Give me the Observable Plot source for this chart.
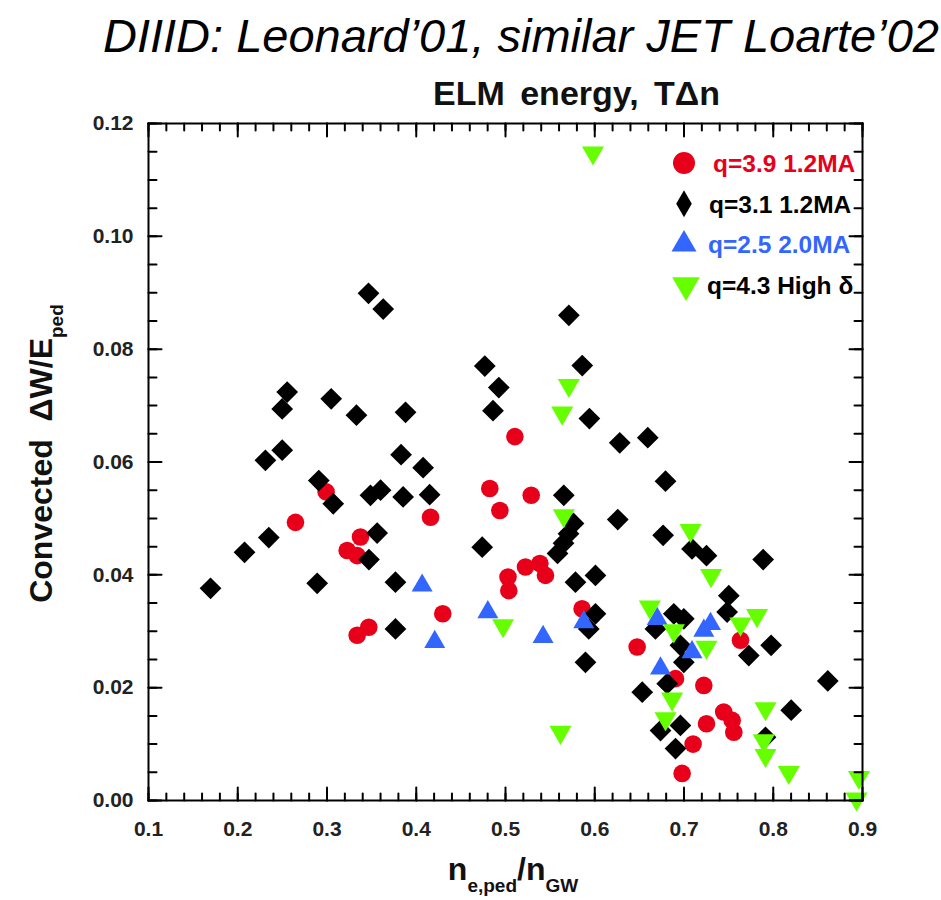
<!DOCTYPE html>
<html><head><meta charset="utf-8">
<script src="https://cdn.jsdelivr.net/npm/d3@7"></script>
<script src="https://cdn.jsdelivr.net/npm/@observablehq/plot@0.6"></script>
<style>
body{margin:0;background:#fff;width:941px;height:900px;overflow:hidden;font-family:"Liberation Sans",Arial,sans-serif}
#head{position:relative;height:110px;width:941px}
#t1{position:absolute;left:103px;top:12px;font-style:italic;font-size:47px;line-height:1;white-space:nowrap;color:#000}
#t2{position:absolute;left:433px;top:76px;font-weight:bold;font-size:34px;line-height:1;white-space:nowrap;word-spacing:6px;color:#111}
#chart{position:relative}
</style></head>
<body>
<div id="head"><div id="t1">DIIID: Leonard’01, similar JET Loarte’02</div><div id="t2">ELM energy, TΔn</div></div>
<div id="chart"></div>
<script>
// ---- data (n_e,ped/n_GW , convected ΔW/E_ped) ----
const seriesNames = ["q=3.9 1.2MA", "q=3.1 1.2MA", "q=2.5 2.0MA", "q=4.3 High δ"];
const seriesColors = ["#e8001a", "#000000", "#3366ff", "#66ff00"];

const redX = [0.299,0.2647,0.3375,0.3226,0.3338,0.3338,0.3468,0.416,0.4297,0.4824,0.4937,0.5105,0.5288,0.5028,0.5037,0.5224,0.5385,0.5448,0.5858,0.6475,0.7633,0.6905,0.7222,0.7445,0.754,0.7558,0.7252,0.7102,0.6979];
const redY = [0.0547,0.0493,0.0467,0.0443,0.0434,0.0293,0.0307,0.0502,0.0331,0.0553,0.0514,0.0645,0.0541,0.0396,0.0372,0.0414,0.042,0.0399,0.034,0.0272,0.0284,0.0216,0.0204,0.0157,0.0142,0.0121,0.0136,0.01,0.0048];

const blackX = [0.3465,0.363,0.571,0.4768,0.586,0.4925,0.486,0.388,0.594,0.628,0.6594,0.383,0.4077,0.2554,0.2498,0.3047,0.333,0.2498,0.231,0.2908,0.307,0.3487,0.36,0.3853,0.415,0.3562,0.347,0.2348,0.2076,0.1695,0.289,0.3767,0.3767,0.4739,0.5653,0.5762,0.5706,0.565,0.5583,0.6258,0.5784,0.6008,0.6008,0.5933,0.5896,0.6793,0.6766,0.709,0.7252,0.7887,0.7502,0.7483,0.6886,0.6998,0.668,0.696,0.6998,0.7726,0.7976,0.6812,0.6532,0.8611,0.8201,0.6737,0.696,0.6905,0.7913];
const blackY = [0.0899,0.0871,0.086,0.077,0.0771,0.0732,0.0691,0.0688,0.0677,0.0634,0.0643,0.0613,0.059,0.0724,0.0694,0.0712,0.0683,0.0621,0.0603,0.0567,0.0526,0.0541,0.055,0.0538,0.0542,0.0474,0.0427,0.0466,0.044,0.0376,0.0385,0.0387,0.0304,0.0449,0.0541,0.0491,0.0473,0.0456,0.0438,0.0498,0.0387,0.0399,0.0331,0.0304,0.0245,0.0566,0.047,0.0446,0.0434,0.0427,0.0363,0.0334,0.0331,0.0322,0.0304,0.0275,0.0245,0.0257,0.0275,0.0207,0.0192,0.0212,0.016,0.0124,0.0133,0.0092,0.0112];

const blueX = [0.4066,0.4207,0.4802,0.5421,0.5877,0.67,0.7297,0.7222,0.709,0.6737];
const blueY = [0.0381,0.0281,0.0334,0.029,0.0316,0.0322,0.0313,0.0301,0.0263,0.0234];

const greenX = [0.598,0.571,0.5635,0.5653,0.4973,0.5616,0.7073,0.7303,0.6617,0.6886,0.7818,0.7633,0.7252,0.6867,0.6793,0.7913,0.7894,0.7913,0.8174,0.896,0.8933];
const greenY = [0.1148,0.0736,0.0687,0.0505,0.031,0.0121,0.0479,0.0399,0.0343,0.0301,0.0328,0.0313,0.0272,0.018,0.0145,0.0163,0.0106,0.008,0.005,0.0041,0.0003];

const xDomain = [0.1, 0.9];
const yDomain = [0, 0.12];
const xMajor = [0.1,0.2,0.3,0.4,0.5,0.6,0.7,0.8,0.9];
const yMajor = [0,0.02,0.04,0.06,0.08,0.10,0.12];
const xMinor = d3.range(0.1, 0.9001, 0.02);
const yMinor = d3.range(0, 0.12001, 0.005);

const pts = (xs, ys) => xs.map((x, i) => ({x, y: ys[i]}));
const red = pts(redX, redY), black = pts(blackX, blackY), blue = pts(blueX, blueY), green = pts(greenX, greenY);

const FONT = "'Liberation Sans', Arial, sans-serif";
const W = 941, H = 790, mT = 13, mB = 100, mL = 148, mR = 79;

// straight tick shape for vectors (no arrowhead)
const tickShape = {draw(context, l) { context.moveTo(0, 0); context.lineTo(0, -l); }};
// inward ticks drawn as vectors from the frame edges
const ticksX = (ticks, yEdge, rot, len) => Plot.vector(ticks, {
  x: d => d, y: () => yEdge, length: len, rotate: rot, anchor: "start",
  shape: tickShape, stroke: "black", strokeWidth: 2
});
const ticksY = (ticks, xEdge, rot, len) => Plot.vector(ticks, {
  x: () => xEdge, y: d => d, length: len, rotate: rot, anchor: "start",
  shape: tickShape, stroke: "black", strokeWidth: 2
});

const plot = Plot.plot({
  width: W, height: H,
  marginTop: mT, marginBottom: mB, marginLeft: mL, marginRight: mR,
  x: {domain: xDomain, label: null},
  y: {domain: yDomain, label: null},
  style: {fontFamily: FONT, background: "transparent", color: "black", overflow: "visible"},
  marks: [
    Plot.dot(red, {x: "x", y: "y", symbol: "circle", r: 8.8, fill: seriesColors[0]}),
    Plot.dot(black, {x: "x", y: "y", symbol: "diamond2", r: 9.8, fill: seriesColors[1]}),
    Plot.dot(blue, {x: "x", y: "y", symbol: "triangle", r: 7.8, fill: seriesColors[2]}),
    Plot.dot(green, {x: "x", y: "y", symbol: "triangle", rotate: 180, r: 8.2, fill: seriesColors[3]}),
    Plot.frame({stroke: "black", strokeWidth: 2}),
    ticksX(xMinor, yDomain[0], 0, 7), ticksX(xMajor, yDomain[0], 0, 13),
    ticksX(xMinor, yDomain[1], 180, 7), ticksX(xMajor, yDomain[1], 180, 13),
    ticksY(yMinor, xDomain[0], 90, 8), ticksY(yMajor, xDomain[0], 90, 13),
    ticksY(yMinor, xDomain[1], -90, 8), ticksY(yMajor, xDomain[1], -90, 13),
    Plot.axisX(xMajor, {anchor: "bottom", tickSize: 0, tickPadding: 21, tickFormat: d => d.toFixed(1), fontSize: 21, fontWeight: "bold", fill: "#222", label: null}),
    Plot.axisY(yMajor, {anchor: "left", tickSize: 0, tickPadding: 15, tickFormat: d => d.toFixed(2), fontSize: 21, fontWeight: "bold", fill: "#222", label: null})
  ]
});
document.getElementById("chart").appendChild(plot);

const svg = d3.select(plot);
// y axis title
const yt = svg.append("text")
  .attr("transform", `translate(40,${mT + (H - mT - mB) / 2 - 8}) rotate(-90)`)
  .attr("text-anchor", "middle").attr("dy", "0.36em")
  .attr("font-family", FONT).attr("font-weight", "bold").attr("font-size", 32).attr("fill", "#111");
yt.append("tspan").text("Convected  ΔW/E");
yt.append("tspan").attr("font-size", 19).attr("dy", 11).text("ped");

// x axis title
const xt = svg.append("text")
  .attr("x", mL + (W - mL - mR) / 2 + 8).attr("y", H - 20)
  .attr("text-anchor", "middle")
  .attr("font-family", FONT).attr("font-weight", "bold").attr("font-size", 32).attr("fill", "#111");
xt.append("tspan").text("n");
xt.append("tspan").attr("font-size", 19).attr("dy", 12).text("e,ped");
xt.append("tspan").attr("dy", -12).text("/n");
xt.append("tspan").attr("font-size", 19).attr("dy", 12).text("GW");

// legend
const legSyms = [
  {type: d3.symbolCircle, size: 380, rot: 0},
  {type: d3.symbolDiamond, size: 210, rot: 0},
  {type: d3.symbolTriangle, size: 270, rot: 0},
  {type: d3.symbolTriangle, size: 330, rot: 180}
];
const textColors = [seriesColors[0], "#000", seriesColors[2], "#000"];
const lg = svg.append("g").attr("transform", `translate(${W - mR - 178},${mT + 40})`);
seriesNames.forEach((name, i) => {
  const gy = i * 40.7;
  lg.append("path")
    .attr("d", d3.symbol(legSyms[i].type, legSyms[i].size)())
    .attr("transform", `translate(${i === 3 ? 2 : 0},${gy}) rotate(${legSyms[i].rot})`)
    .attr("fill", seriesColors[i]);
  lg.append("text").attr("x", i === 0 ? 29 : 26 - i).attr("y", gy).attr("dy", "0.36em")
    .attr("text-anchor", "start")
    .attr("font-family", FONT).attr("font-weight", "bold").attr("font-size", 24.5)
    .attr("fill", textColors[i]).text(name);
});
</script>
</body></html>
